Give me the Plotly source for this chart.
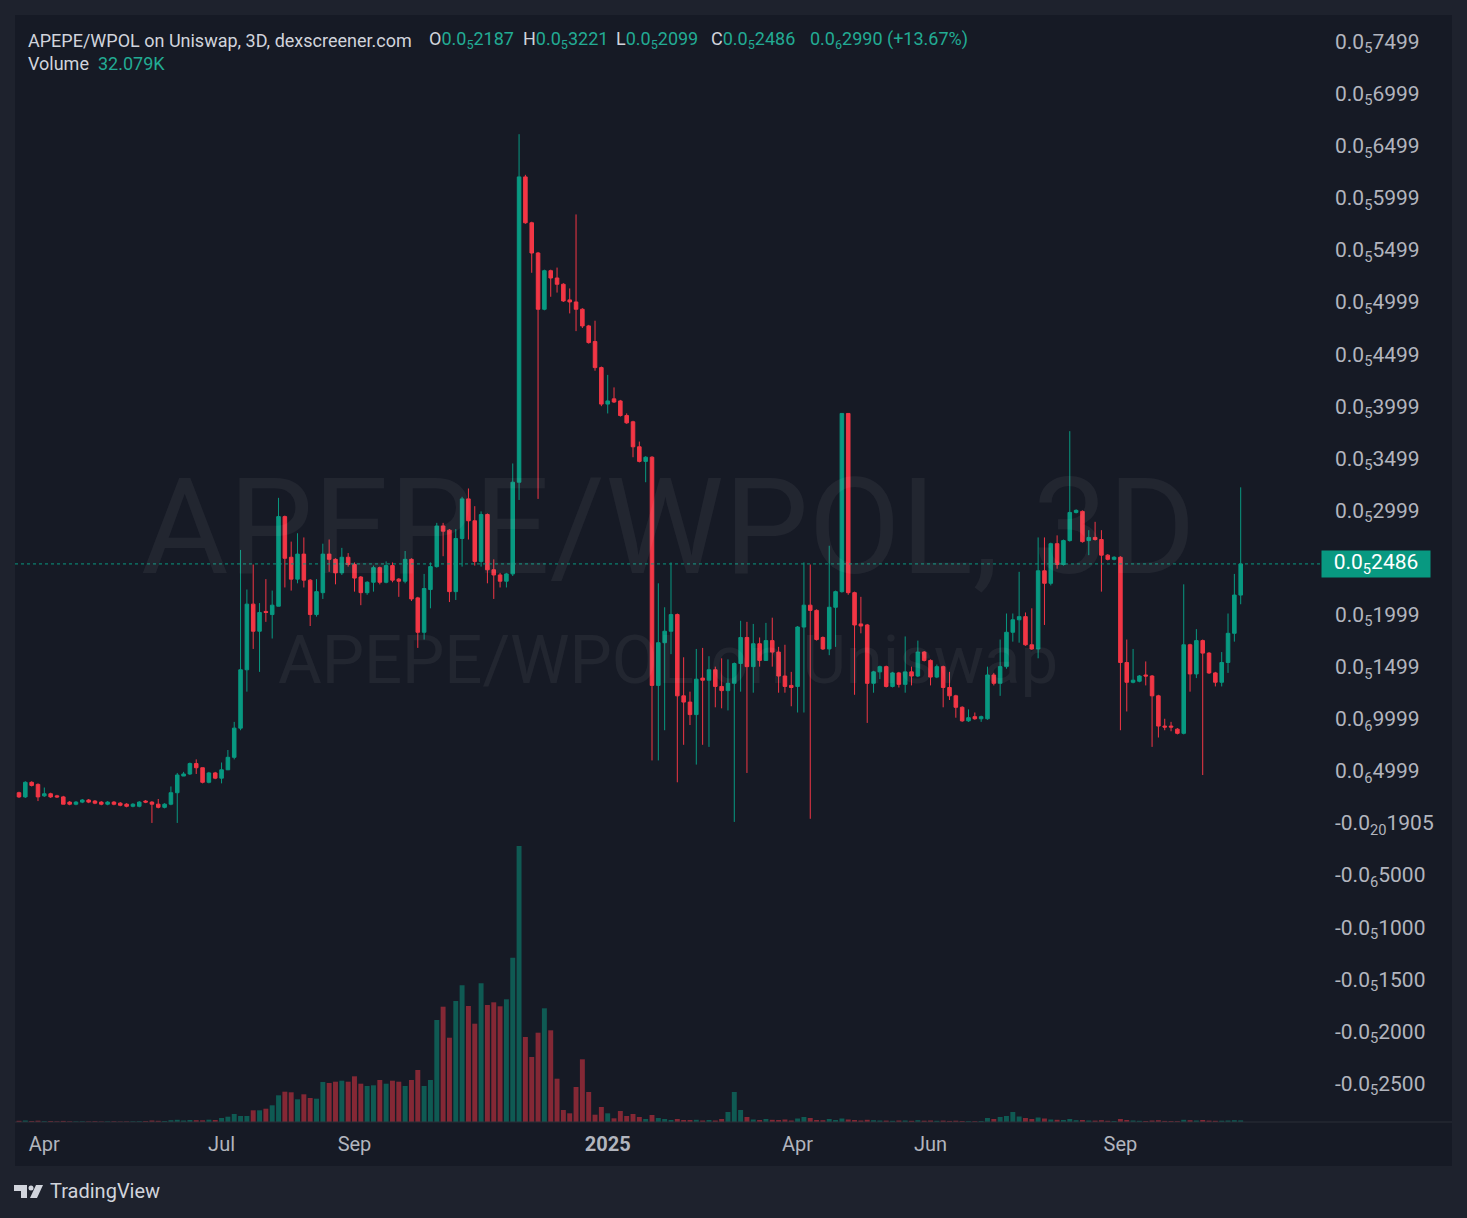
import plotly.graph_objects as go

# APEPE/WPOL 3D candles, prices in units of 1e-6
opens = [
    0.29, 0.25, 0.39, 0.37, 0.26, 0.28, 0.26, 0.25, 0.20, 0.18,
    0.20, 0.22, 0.21, 0.20, 0.18, 0.20, 0.19, 0.18, 0.16, 0.16,
    0.21, 0.20, 0.18, 0.15, 0.18, 0.29, 0.45, 0.47, 0.57, 0.53,
    0.39, 0.48, 0.43, 0.51, 0.63, 0.91, 1.47, 2.10, 1.84, 2.03,
    2.00, 2.08, 2.94, 2.55, 2.34, 2.58, 2.33, 2.00, 2.21, 2.58,
    2.53, 2.40, 2.55, 2.48, 2.36, 2.21, 2.31, 2.45, 2.31, 2.47,
    2.34, 2.32, 2.53, 2.16, 1.83, 2.24, 2.46, 2.85, 2.81, 2.22,
    2.73, 3.11, 2.90, 2.51, 2.96, 2.43, 2.38, 2.32, 2.39, 3.27,
    6.20, 5.76, 5.47, 4.93, 5.30, 5.23, 5.17, 5.02, 5.00, 4.93,
    4.77, 4.62, 4.37, 4.02, 4.07, 4.05, 3.91, 3.85, 3.61, 3.47,
    3.51, 1.32, 1.73, 1.84, 2.00, 1.22, 1.16, 1.04, 1.39, 1.37,
    1.47, 1.31, 1.27, 1.34, 1.53, 1.78, 1.50, 1.72, 1.56, 1.75,
    1.64, 1.41, 1.32, 1.31, 1.88, 2.09, 2.04, 1.78, 1.67, 2.07,
    2.22, 3.93, 2.21, 1.91, 1.90, 1.34, 1.45, 1.50, 1.31, 1.44,
    1.33, 1.45, 1.41, 1.64, 1.56, 1.40, 1.50, 1.30, 1.22, 1.11,
    0.98, 1.02, 1.00, 1.00, 1.42, 1.34, 1.50, 1.83, 1.95, 1.98,
    1.71, 1.67, 2.42, 2.30, 2.68, 2.48, 2.71, 2.98, 2.99, 2.71,
    2.74, 2.72, 2.57, 2.53, 2.55, 1.54, 1.35, 1.36, 1.42, 1.41,
    1.22, 0.93, 0.93, 0.90, 0.86, 1.71, 1.43, 1.75, 1.63, 1.44,
    1.35, 1.54, 1.82, 2.187,
]
highs = [
    0.30, 0.40, 0.40, 0.38, 0.34, 0.29, 0.27, 0.26, 0.21, 0.21,
    0.23, 0.23, 0.22, 0.21, 0.21, 0.21, 0.20, 0.19, 0.19, 0.21,
    0.22, 0.21, 0.23, 0.19, 0.35, 0.48, 0.49, 0.58, 0.61, 0.53,
    0.49, 0.49, 0.58, 0.70, 0.97, 2.62, 2.24, 2.48, 2.11, 2.34,
    2.23, 3.12, 2.95, 2.70, 2.78, 2.74, 2.34, 2.34, 2.68, 2.72,
    2.54, 2.64, 2.59, 2.50, 2.37, 2.32, 2.47, 2.46, 2.51, 2.50,
    2.35, 2.61, 2.54, 2.17, 2.39, 2.50, 2.88, 2.88, 2.82, 2.82,
    3.13, 3.21, 3.04, 2.99, 2.97, 2.53, 2.40, 2.40, 3.45, 6.61,
    6.22, 5.77, 5.48, 5.31, 5.31, 5.33, 5.18, 5.13, 5.84, 4.94,
    4.78, 4.82, 4.38, 4.30, 4.18, 4.06, 3.93, 3.86, 3.66, 3.52,
    3.52, 2.30, 2.07, 2.50, 2.01, 1.59, 1.26, 1.67, 1.68, 1.60,
    1.50, 1.58, 1.57, 1.54, 1.94, 1.93, 1.91, 1.78, 1.92, 1.97,
    1.69, 1.71, 1.45, 1.89, 2.50, 2.48, 2.05, 1.79, 2.66, 2.23,
    3.93, 3.93, 2.22, 2.17, 1.91, 1.46, 1.51, 1.51, 1.45, 1.45,
    1.79, 1.50, 1.75, 1.65, 1.57, 1.52, 1.51, 1.45, 1.23, 1.12,
    1.09, 1.06, 1.03, 1.50, 1.44, 1.76, 2.01, 2.01, 2.41, 2.02,
    2.06, 2.74, 2.74, 2.69, 2.76, 2.72, 3.76, 3.01, 3.00, 2.81,
    2.89, 2.81, 2.58, 2.56, 2.56, 1.76, 1.67, 1.42, 1.55, 1.42,
    1.23, 1.00, 0.97, 0.91, 2.29, 1.72, 1.86, 1.76, 1.64, 1.45,
    1.64, 2.01, 2.39, 3.221,
]
lows = [
    0.24, 0.24, 0.35, 0.21, 0.25, 0.24, 0.24, 0.18, 0.17, 0.17,
    0.19, 0.19, 0.18, 0.17, 0.17, 0.17, 0.16, 0.15, 0.15, 0.15,
    0.19, 0.00, 0.14, 0.14, 0.17, 0.00, 0.45, 0.46, 0.47, 0.38,
    0.38, 0.42, 0.38, 0.60, 0.61, 0.89, 1.26, 1.67, 1.45, 1.93,
    1.77, 2.08, 2.26, 2.23, 2.30, 2.26, 1.89, 1.98, 2.15, 2.41,
    2.29, 2.38, 2.46, 2.22, 2.09, 2.19, 2.22, 2.29, 2.30, 2.31,
    2.17, 2.30, 2.13, 1.68, 1.76, 2.06, 2.45, 2.56, 2.12, 2.14,
    2.46, 2.72, 2.47, 2.46, 2.30, 2.15, 2.26, 2.26, 2.37, 3.10,
    5.75, 5.28, 3.11, 4.92, 5.05, 5.09, 5.00, 4.89, 4.72, 4.75,
    4.60, 4.34, 4.00, 3.93, 4.03, 3.90, 3.83, 3.51, 3.46, 3.27,
    0.60, 0.60, 0.89, 1.62, 0.39, 0.75, 0.94, 0.56, 0.75, 0.73,
    1.11, 1.10, 1.08, 0.01, 1.26, 0.48, 1.25, 1.50, 1.56, 1.50,
    1.25, 1.25, 1.12, 1.06, 1.06, 0.04, 1.75, 1.66, 1.61, 1.69,
    2.21, 2.19, 1.23, 1.82, 0.96, 1.25, 1.38, 1.30, 1.30, 1.30,
    1.25, 1.32, 1.40, 1.55, 1.32, 1.39, 1.11, 1.18, 1.01, 0.97,
    0.97, 0.99, 0.97, 0.99, 1.32, 1.22, 1.48, 1.74, 1.73, 1.70,
    1.66, 1.58, 1.90, 2.28, 2.44, 2.47, 2.70, 2.97, 2.69, 2.57,
    2.71, 2.22, 2.52, 2.52, 0.89, 1.07, 1.34, 1.35, 1.32, 0.73,
    0.82, 0.89, 0.88, 0.85, 0.85, 1.26, 1.39, 0.46, 1.43, 1.31,
    1.31, 1.44, 1.74, 2.099,
]
closes = [
    0.25, 0.39, 0.36, 0.25, 0.28, 0.25, 0.25, 0.18, 0.18, 0.20,
    0.22, 0.20, 0.19, 0.18, 0.20, 0.18, 0.17, 0.16, 0.18, 0.20,
    0.20, 0.18, 0.15, 0.18, 0.29, 0.46, 0.47, 0.57, 0.53, 0.39,
    0.48, 0.43, 0.51, 0.63, 0.91, 1.47, 2.10, 1.84, 2.02, 2.02,
    2.09, 2.94, 2.54, 2.34, 2.58, 2.33, 2.00, 2.22, 2.58, 2.53,
    2.40, 2.55, 2.48, 2.35, 2.21, 2.31, 2.45, 2.31, 2.47, 2.33,
    2.32, 2.53, 2.15, 1.83, 2.25, 2.46, 2.85, 2.80, 2.22, 2.73,
    3.11, 2.90, 2.51, 2.96, 2.43, 2.38, 2.32, 2.39, 3.27, 6.20,
    5.76, 5.47, 4.93, 5.30, 5.23, 5.17, 5.01, 5.00, 4.93, 4.77,
    4.61, 4.37, 4.02, 4.05, 4.04, 3.91, 3.84, 3.61, 3.47, 3.51,
    1.32, 1.73, 1.84, 2.00, 1.22, 1.16, 1.04, 1.38, 1.37, 1.47,
    1.31, 1.27, 1.34, 1.53, 1.78, 1.50, 1.72, 1.56, 1.75, 1.64,
    1.41, 1.31, 1.30, 1.88, 2.09, 2.04, 1.76, 1.67, 2.07, 2.22,
    3.93, 2.21, 1.90, 1.89, 1.34, 1.45, 1.50, 1.31, 1.44, 1.33,
    1.45, 1.41, 1.64, 1.56, 1.40, 1.50, 1.30, 1.22, 1.11, 0.98,
    1.01, 1.00, 1.02, 1.42, 1.34, 1.50, 1.83, 1.95, 1.98, 1.71,
    1.67, 2.42, 2.30, 2.68, 2.48, 2.71, 2.98, 3.00, 2.70, 2.74,
    2.72, 2.57, 2.53, 2.55, 1.54, 1.35, 1.37, 1.41, 1.41, 1.22,
    0.93, 0.92, 0.92, 0.86, 1.71, 1.43, 1.75, 1.63, 1.44, 1.35,
    1.54, 1.82, 2.187, 2.486,
]
# volume in thousands
volumes_k = [
    24, 30, 20, 26, 16, 20, 14, 22, 14, 12,
    14, 12, 16, 10, 12, 14, 10, 12, 14, 16,
    18, 30, 24, 20, 36, 44, 30, 40, 36, 34,
    46, 40, 80, 106, 160, 120, 120, 234, 234, 266,
    334, 534, 606, 594, 454, 554, 480, 466, 800, 780,
    806, 826, 806, 914, 766, 720, 734, 840, 766, 826,
    806, 720, 840, 1040, 720, 840, 2040, 2306, 1686, 2420,
    2734, 2320, 1966, 2774, 2340, 2394, 2314, 2454, 3286, 5520,
    1700, 1300, 1786, 2274, 1834, 866, 240, 174, 700, 1254,
    600, 146, 300, 174, 74, 220, 120, 160, 100, 60,
    140, 80, 60, 40, 60, 40, 40, 44, 30, 40,
    30, 60, 200, 600, 240, 100, 50, 40, 60, 44,
    40, 50, 30, 70, 100, 80, 40, 36, 60, 40,
    70, 50, 40, 30, 44, 36, 30, 28, 24, 30,
    30, 24, 36, 26, 30, 24, 28, 22, 26, 20,
    18, 16, 20, 80, 60, 100, 120, 200, 110, 80,
    60, 90, 70, 50, 44, 40, 60, 36, 40, 30,
    28, 36, 24, 20, 60, 40, 30, 24, 20, 30,
    36, 22, 20, 18, 44, 36, 30, 40, 28, 24,
    26, 30, 36, 32.079,
]

price_ticks = [7.499, 6.999, 6.499, 5.999, 5.499, 4.999, 4.499, 3.999, 3.499, 2.999,
               1.999, 1.499, 0.9999, 0.4999, 0.0, -0.5, -1.0, -1.5, -2.0, -2.5]
price_labels = ["0.0<sub>5</sub>7499", "0.0<sub>5</sub>6999", "0.0<sub>5</sub>6499",
                "0.0<sub>5</sub>5999", "0.0<sub>5</sub>5499", "0.0<sub>5</sub>4999",
                "0.0<sub>5</sub>4499", "0.0<sub>5</sub>3999", "0.0<sub>5</sub>3499",
                "0.0<sub>5</sub>2999", "0.0<sub>5</sub>1999", "0.0<sub>5</sub>1499",
                "0.0<sub>6</sub>9999", "0.0<sub>6</sub>4999", "-0.0<sub>20</sub>1905",
                "-0.0<sub>6</sub>5000", "-0.0<sub>5</sub>1000", "-0.0<sub>5</sub>1500",
                "-0.0<sub>5</sub>2000", "-0.0<sub>5</sub>2500"]
time_tick_idx = [4, 32, 53, 93, 123, 144, 174]
time_tick_text = ["Apr", "Jul", "Sep", "<b>2025</b>", "Apr", "Jun", "Sep"]
last_price = 2.486

UP = '#089981'
DOWN = '#f23645'
UP_VOL = 'rgba(8,153,129,0.5)'
DOWN_VOL = 'rgba(242,54,69,0.5)'
BG = '#161a25'
OUTER = '#1e222d'
TEXT = '#d1d4dc'
AXIS_TXT = '#b2b5be'
VAL = '#22ab94'
FONT = 'Roboto, Inter, sans-serif'

W, H = 1467, 1218
ML, MR, MT, MB = 15, 147, 15, 96
PW = W - ML - MR
PH = H - MT - MB


def px(x):
    return (x - ML) / PW


def py(y):
    return (H - MB - y) / PH


idx = list(range(len(opens)))
vol_colors = [UP_VOL if c > o else DOWN_VOL for o, c in zip(opens, closes)]

fig = go.Figure()

fig.add_trace(go.Bar(
    x=idx, y=volumes_k, yaxis='y2',
    marker=dict(color=vol_colors, line=dict(width=0)),
    width=0.78, hoverinfo='skip', showlegend=False
))

fig.add_trace(go.Candlestick(
    x=idx, open=opens, high=highs, low=lows, close=closes,
    increasing=dict(line=dict(color=UP, width=1), fillcolor=UP),
    decreasing=dict(line=dict(color=DOWN, width=1), fillcolor=DOWN),
    whiskerwidth=0, hoverinfo='skip', showlegend=False
))

# ---------------------------------------------------
# background frame + separators
# ---------------------------------------------------
shapes = [
    dict(type='rect', xref='paper', yref='paper', x0=px(15), x1=px(1452), y0=py(1166), y1=py(15),
         fillcolor=BG, line=dict(width=0), layer='below'),
    dict(type='line', xref='paper', yref='paper', x0=px(15), x1=px(1452), y0=py(1122), y1=py(1122),
         line=dict(color='#2a2e39', width=1)),
    dict(type='line', xref='paper', yref='y', x0=0, x1=1, y0=last_price, y1=last_price,
         line=dict(color=UP, width=1, dash='dot')),
]

# TradingView logo
shapes += [
    dict(type='path', xref='paper', yref='paper', fillcolor=TEXT, line=dict(width=0),
         path=f'M {px(14)},{py(1185)} L {px(27)},{py(1185)} L {px(27)},{py(1198)} L {px(21)},{py(1198)} '
              f'L {px(21)},{py(1191)} L {px(14)},{py(1191)} Z'),
    dict(type='circle', xref='paper', yref='paper', fillcolor=TEXT, line=dict(width=0),
         x0=px(28.5), x1=px(33.5), y0=py(1190.5), y1=py(1185.5)),
    dict(type='path', xref='paper', yref='paper', fillcolor=TEXT, line=dict(width=0),
         path=f'M {px(36)},{py(1185)} L {px(43)},{py(1185)} L {px(37)},{py(1198)} L {px(30)},{py(1198)} Z'),
]

annotations = []

# watermark
annotations.append(dict(xref='paper', yref='paper', x=px(668), y=py(527), text='APEPE/WPOL, 3D',
                        showarrow=False, xanchor='center', yanchor='middle',
                        font=dict(family=FONT, size=134, color='rgba(255,255,255,0.055)')))
annotations.append(dict(xref='paper', yref='paper', x=px(668), y=py(660), text='APEPE/WPOL on Uniswap',
                        showarrow=False, xanchor='center', yanchor='middle',
                        font=dict(family=FONT, size=67, color='rgba(255,255,255,0.055)')))

# legend header
hdr = [
    (26, 40, f'<span style="color:{TEXT}">APEPE/WPOL on Uniswap, 3D, dexscreener.com</span>'),
    (427, 40, f'<span style="color:{TEXT}">O</span>0.0<sub>5</sub>2187'),
    (521, 40, f'<span style="color:{TEXT}">H</span>0.0<sub>5</sub>3221'),
    (614, 40, f'<span style="color:{TEXT}">L</span>0.0<sub>5</sub>2099'),
    (709, 40, f'<span style="color:{TEXT}">C</span>0.0<sub>5</sub>2486'),
    (808, 40, '0.0<sub>6</sub>2990 (+13.67%)'),
    (26, 64, f'<span style="color:{TEXT}">Volume</span>'),
    (96, 64, '32.079K'),
]
for x, y, t in hdr:
    annotations.append(dict(xref='paper', yref='paper', x=px(x), y=py(y), text=t, showarrow=False,
                            xanchor='left', yanchor='middle',
                            font=dict(family=FONT, size=18, color=VAL)))

# last price label
annotations.append(dict(xref='paper', yref='y', x=px(1321), y=last_price, text='0.0<sub>5</sub>2486',
                        showarrow=False, xanchor='left', yanchor='middle', align='center',
                        width=108, height=26, bgcolor=UP, borderpad=0,
                        font=dict(family=FONT, size=21, color='#ffffff')))

annotations.append(dict(xref='paper', yref='paper', x=px(48), y=py(1191), text='TradingView',
                        showarrow=False, xanchor='left', yanchor='middle',
                        font=dict(family=FONT, size=20, color=TEXT)))

fig.update_layout(
    width=W, height=H,
    margin=dict(l=ML, r=MR, t=MT, b=MB),
    paper_bgcolor=OUTER, plot_bgcolor=BG,
    font=dict(family=FONT, color=AXIS_TXT, size=20),
    showlegend=False,
    boxgap=0.2,
    xaxis=dict(range=[-0.632, 205.53], tickvals=time_tick_idx, ticktext=time_tick_text,
               showgrid=False, zeroline=False, showline=False, ticks='',
               tickfont=dict(size=20, color=AXIS_TXT), ticklabelstandoff=8,
               rangeslider=dict(visible=False), fixedrange=True),
    yaxis=dict(range=[-2.870, 7.754], side='right', tickvals=price_ticks, ticktext=price_labels,
               showgrid=False, zeroline=False, showline=False, ticks='',
               tickfont=dict(size=21, color=AXIS_TXT), ticklabelstandoff=14),
    yaxis2=dict(range=[0, 22140], overlaying='y', visible=False),
    shapes=shapes,
    annotations=annotations,
)

# page margin off so the figure sits at the window's corner
fig.write_html("out.html", config={'displayModeBar': False},
               post_script="document.body.style.margin='0';")
